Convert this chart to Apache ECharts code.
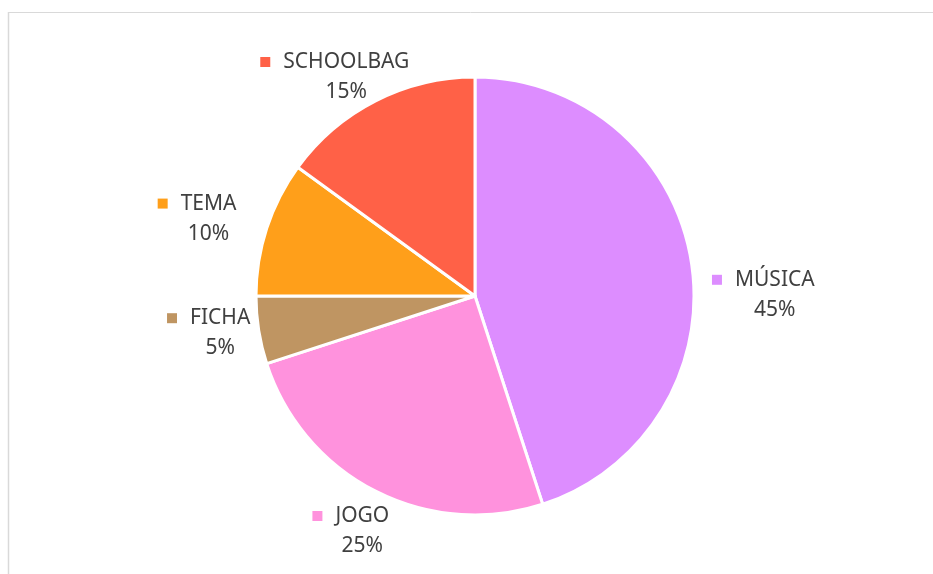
<!DOCTYPE html>
<html>
<head>
<meta charset="utf-8">
<script src="https://cdn.jsdelivr.net/npm/echarts@6/dist/echarts.min.js"></script>
<style>
html,body{margin:0;padding:0;background:#fff;}
#chart{width:933px;height:574px;}
</style>
</head>
<body>
<div id="chart"></div>
<script>
const categories = ['MÚSICA', 'JOGO', 'FICHA', 'TEMA', 'SCHOOLBAG'];
const values = [45, 25, 5, 10, 15];
const colors = ['#DD8DFF', '#FF92DD', '#BF9562', '#FF9F1A', '#FF6147'];

// layout constants (not data)
const CX = 475, CY = 296, R = 219, LABEL_R = 257;
const labelNudge = [[46, 39], [4, 6], [-1, -3], [-22, 2], [-12, 10]];

const total = values.reduce((a, b) => a + b, 0);
const midAngles = [];
{
  let acc = 0;
  values.forEach(v => { midAngles.push((acc + v / 2) / total * 2 * Math.PI); acc += v; });
}

const chart = echarts.init(document.getElementById('chart'));

function richFor(color) {
  const txt = { fontSize: 21, color: '#404040', fontFamily: 'Noto Sans', lineHeight: 30 };
  return {
    m: { width: 10, height: 10, backgroundColor: color },
    e: { width: 10, height: 10 },
    g: { width: 13 },
    n: txt,
    p: txt
  };
}
const data = categories.map((c, i) => ({
  name: c,
  value: values[i],
  itemStyle: { color: colors[i] },
  label: { rich: richFor(colors[i]) }
}));

chart.setOption({
  animation: false,
  graphic: [
    { type: 'line', shape: { x1: 8, y1: 12.5, x2: 933, y2: 12.5 }, style: { stroke: '#d9d9d9', lineWidth: 1 } },
    { type: 'line', shape: { x1: 8.5, y1: 12, x2: 8.5, y2: 574 }, style: { stroke: '#d9d9d9', lineWidth: 1.5 } }
  ],
  series: [{
    type: 'pie',
    center: [CX, CY],
    radius: R,
    startAngle: 90,
    clockwise: true,
    data: data,
    itemStyle: { borderColor: '#fff', borderWidth: 3 },
    label: {
      show: true,
      position: 'outside',
      formatter: p => '{m|}{g|}{n|' + p.name + '}{g|}{e|}\n{p|' + Math.round(p.percent) + '%}'
    },
    labelLine: { show: false, length: 14, length2: 0 },
    labelLayout: function (params) {
      const i = params.dataIndex;
      const a = midAngles[i];
      const x = CX + Math.sin(a) * LABEL_R + labelNudge[i][0];
      const y = CY - Math.cos(a) * LABEL_R + labelNudge[i][1];
      return { x: x, y: y, align: 'center', verticalAlign: 'middle' };
    }
  }]
});
</script>
</body>
</html>
